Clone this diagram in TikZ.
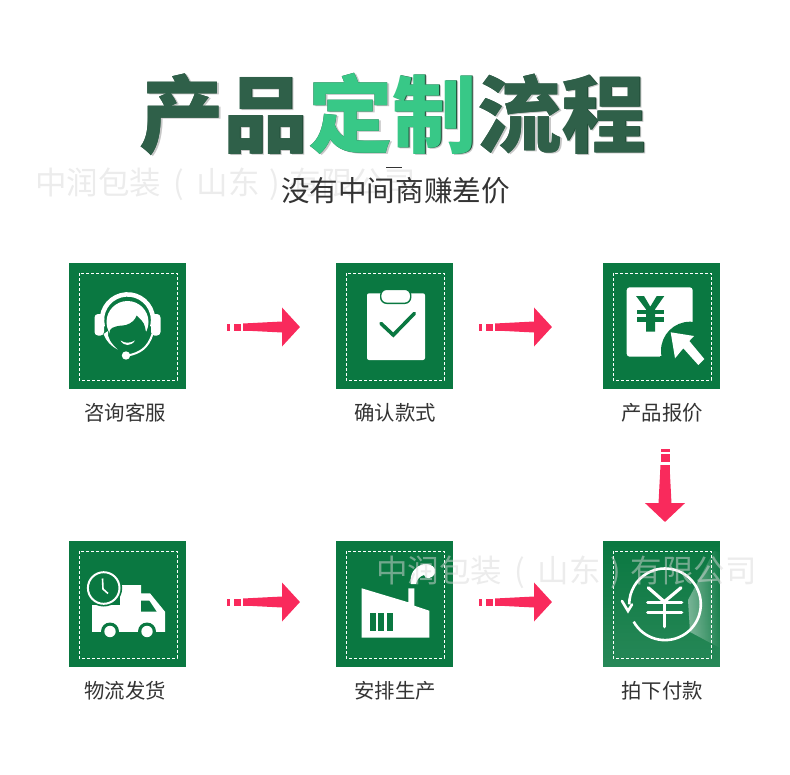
\documentclass[tikz,border=0pt]{standalone}
\usepackage{fontspec}
\usepackage{tikz}
\usetikzlibrary{arrows.meta,positioning,fadings}
\newfontfamily\cjk{Noto Sans CJK SC}
\definecolor{cbox}{HTML}{0A7841}
\definecolor{cflow}{HTML}{F92A5C}
\definecolor{ctitle}{HTML}{2F6049}
\definecolor{cside}{HTML}{1F4A35}
\definecolor{chigh}{HTML}{38C887}
\definecolor{ctext}{HTML}{333333}
\definecolor{cmark}{HTML}{D9D9D9}
\tikzset{
  box/.style={fill=cbox,minimum width=117pt,minimum height=126pt,inner sep=0pt,outer sep=0pt},
  lab/.style={font=\cjk\fontsize{20.4}{20.4}\selectfont,text=ctext,inner sep=0pt},
  frame/.style={draw=white,line width=0.8pt,dash pattern=on 3pt off 2pt},
  flow/.style={draw=cflow,line width=7pt,dash pattern=on 3pt off 4pt on 7pt off 2pt on 120pt off 0pt,-{Triangle[length=18pt,width=38pt,fill=cflow]}},
  wm/.style={font=\cjk\fontsize{31.5}{32}\selectfont,text=cmark,text opacity=0.5,inner sep=0pt},
  ttl/.style={font=\cjk\bfseries\fontsize{84.5}{85}\selectfont,inner sep=0pt}
}
% from, to, gap at start, gap at end, y offset
\newcommand{\hflow}[5]{%
  \draw[flow,shorten <=#3,shorten >=#4] ([yshift=#5]#1.east) -- ([yshift=#5]#2.west);
  \fill[cflow] ([shift={(#3+16pt,#5+3.5pt)}]#1.east) -- ([shift={(-#4-18pt,#5+5.5pt)}]#2.west)
    -- ([shift={(-#4-18pt,#5-5.5pt)}]#2.west) -- ([shift={(#3+16pt,#5-3.5pt)}]#1.east) -- cycle;
}
\begin{document}
\begin{tikzpicture}[x=1pt,y=-1pt,node distance=150pt]
    \useasboundingbox (0,0) rectangle (790,774);
    \node[wm] (wma) at (225.5,184.5) {中润包装\makebox[36pt]{(}山东\makebox[30pt]{)}有限公司};
    % title
    \node[ttl,text=black!22] (tsh) at (394.5,115.8) {产品定制流程};
    \node[ttl,text=cside] (tsd) at (393.4,114.8) {产品定制流程};
    \node[ttl,text=ctitle] (title) at (392.5,114) {产品{\color{chigh}定制}流程};
    \fill[ctext] (386,166.5) rectangle (402,168);
    \node[font=\cjk\fontsize{28.6}{29}\selectfont,text=ctext,inner sep=0pt] (sub) at (395.5,191) {没有中间商赚差价};
    % boxes
    \node[box] (a) at (127.5,326) {};
    \node[box,right=of a] (b) {};
    \node[box,right=of b] (c) {};
    \node[box,below=152pt of a] (d) {};
    \node[box,right=of d] (e) {};
    \node[box,right=of e] (f) {};
    \node[lab,below=14pt of a,xshift=-2.5pt] (la) {咨询客服};
    \node[lab,below=14pt of b,xshift=0.5pt] (lb) {确认款式};
    \node[lab,below=14pt of c,xshift=0.5pt] (lc) {产品报价};
    \node[lab,below=14pt of d,xshift=-2.5pt] (ld) {物流发货};
    \node[lab,below=14pt of e,xshift=0.5pt] (le) {安排生产};
    \node[lab,below=14pt of f,xshift=0.5pt] (lf) {拍下付款};
    % arrows
    \hflow{a}{b}{41pt}{36pt}{-1pt}
    \hflow{b}{c}{26pt}{51pt}{-1pt}
    \hflow{d}{e}{41pt}{36pt}{2pt}
    \hflow{e}{f}{26pt}{51pt}{2pt}
    \draw[flow,line width=9pt,dash pattern=on 3pt off 2pt on 8pt off 3pt on 120pt off 0pt,shorten <=60pt,shorten >=19pt,-{Triangle[length=19pt,width=39pt,fill=cflow]}]
      ([xshift=3.5pt]c.south) -- ([xshift=3.5pt]f.north);
    \fill[cflow] (660.5,465) -- (669.5,465) -- (671.5,503.5) -- (658.5,503.5) -- cycle;
    % headset
    \draw[white,line width=4.5pt] (127.5,320) ++(165:25.6) arc (165:375:25.6);
    \fill[white,rounded corners=3.5pt] (94.5,314) rectangle (104,335.5);
    \fill[white,rounded corners=3.5pt] (151,314) rectangle (160.5,335.5);
    \fill[white] (127.5,322) circle (21);
    \fill[cbox] (110,335) .. controls (109,331) and (110,329) .. (112,328) .. controls (118,325) and (122,326) .. (126,325)
      .. controls (132,323) and (135,320) .. (136.7,315.5) .. controls (140,319) and (144,322) .. (145,327)
      -- (146.5,335) .. controls (146,344) and (137,351) .. (127,351) .. controls (118,351) and (111,344) .. (110,335) -- cycle;
    \fill[white] (120.5,340.5) .. controls (124,346.5) and (131,346.5) .. (135,340.5) .. controls (130,343.5) and (125,343.5) .. (120.5,340.5) -- cycle;
    \fill[white] (103.5,334) .. controls (106,341) and (111,346) .. (117.5,349.5) .. controls (111,343) and (107,338) .. (108,331) -- cycle;
    \draw[white,line width=2pt] (152.5,334) .. controls (148,348) and (140,353) .. (128,355.5);
    \fill[white] (126,355.5) circle (4.2);
    % clipboard
    \fill[white,rounded corners=2pt] (367,293.3) rectangle (425,360);
    \draw[cbox,fill=white,line width=1.4pt,rounded corners=6pt] (380.7,289.3) rectangle (410.7,303.3);
    \draw[cbox,line width=3.6pt,line cap=round] (381,323.5) -- (393.3,335) -- (414.3,313.5);
    % price sheet
    \fill[white,rounded corners=3pt] (626.7,287.3) rectangle (692.7,356.7);
    \fill[cbox] (690,350.7) circle (29);
    \fill[cbox] (693,356) rectangle (660,358);
    \fill[cbox] (636,296) -- (644,296) -- (650.3,306.7) -- (656.7,296) -- (664.3,296) -- (655,309.3) -- (655,331.7) -- (646,331.7) -- (646,309.3) -- cycle;
    \fill[cbox] (636.7,310) rectangle (663.8,314.3);
    \fill[cbox] (636.7,317.3) rectangle (663.8,321.7);
    \fill[white] (670.7,332.3) -- (694,336) -- (689.3,341) -- (704.3,359) -- (698.3,365) -- (683.3,348.3) -- (675,358.3) -- cycle;
    % truck
    \fill[white] (92,605) -- (120,605) -- (120,585) -- (141,585) -- (141,593.3) -- (150,593.3) -- (165,611.7) -- (165,632) -- (92,632) -- cycle;
    \fill[cbox] (91,632) rectangle (166,640);
    \fill[cbox] (141,600.7) -- (149.3,600.7) -- (156.7,611.7) -- (141,611.7) -- cycle;
    \foreach \wx in {110,147} {
      \fill[cbox] (\wx,631.5) circle (9);
      \fill[white] (\wx,631.5) circle (5.7);
    }
    \fill[cbox] (103.7,588) circle (18.5);
    \draw[white,line width=2pt] (103.7,588) circle (15.8);
    \draw[white,line width=1.6pt] (102.5,578.5) -- (103,589) -- (108,593.5);
    % factory
    \fill[white] (361.7,588.3) -- (408.3,602.3) -- (408.3,588.3) -- (414.3,588.3) -- (414.3,605.7) -- (429.3,610.7) -- (429.3,637.7) -- (361.7,637.7) -- cycle;
    \foreach \wx in {370,378.3,386.7}
      \fill[cbox] (\wx,612.7) rectangle ++(6,18);
    \fill[white] (411,584) .. controls (409,574) and (415,566) .. (424,564) .. controls (431,563) and (437,568) .. (435,573)
      .. controls (432,580) and (425,579) .. (424,575) .. controls (420,576) and (417,579) .. (416,584) -- cycle;
    % payment
    \fill[white,opacity=0.12,path fading=north] (f.north west) rectangle (f.south east);
    \fill[white,opacity=0.42,path fading=east] (714,551) -- (720,552) -- (720,648) -- (690,632) -- (688,600) -- cycle;
    \draw[white,line width=2.6pt] (665,604.3) ++(151:35.8) arc (151:-180:35.8);
    \draw[white,line width=2.6pt,line cap=round] (622,601) -- (628,611) -- (632,604.5);
    \draw[white,line width=3.2pt,line cap=round] (648.3,587.7) -- (664.3,601.7) -- (681,587.7);
    \draw[white,line width=3.2pt,line cap=round] (647.7,602.7) -- (681.7,602.7);
    \draw[white,line width=3.2pt,line cap=round] (647.7,612.3) -- (681.7,612.3);
    \draw[white,line width=3.2pt,line cap=round] (664.3,601.7) -- (664.3,626.7);
    \foreach \n in {a,b,c,d,e,f}
      \draw[frame] ([shift={(10pt,-10pt)}]\n.north west) rectangle ([shift={(-9pt,9pt)}]\n.south east);
    \node[wm] (wmb) at (566.5,572.5) {中润包装\makebox[36pt]{(}山东\makebox[30pt]{)}有限公司};
  \end{tikzpicture}
\end{document}
